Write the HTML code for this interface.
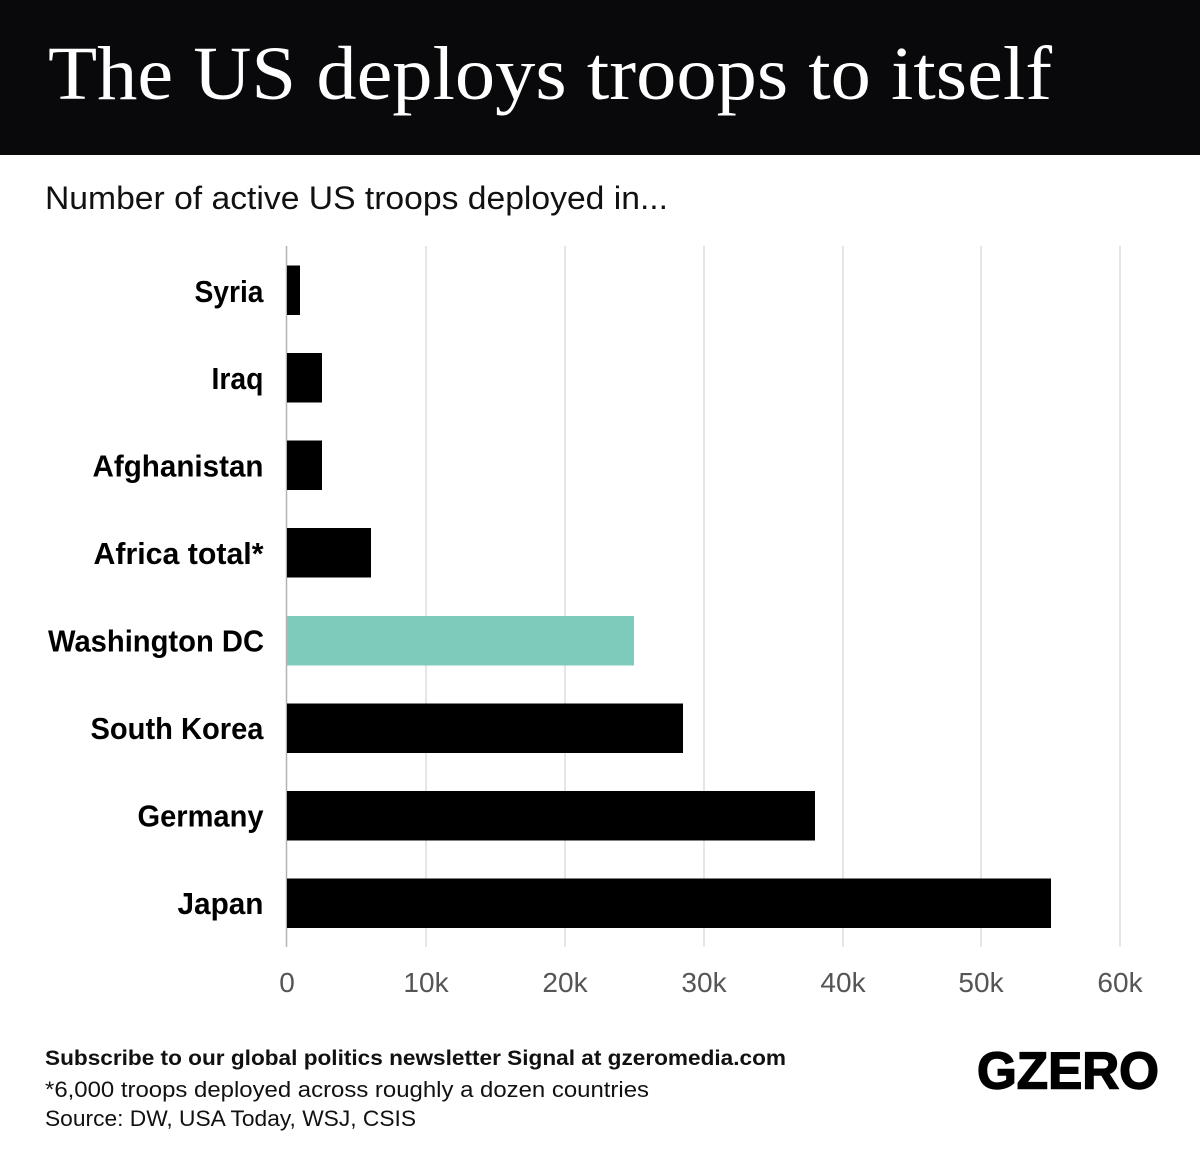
<!DOCTYPE html>
<html>
<head>
<meta charset="utf-8">
<style>
  html, body { margin: 0; padding: 0; background: #ffffff; }
  svg { display: block; }
</style>
</head>
<body>
<svg width="1200" height="1164" viewBox="0 0 1200 1164" xmlns="http://www.w3.org/2000/svg">
  <rect x="0" y="0" width="1200" height="1164" fill="#ffffff"/>
  <!-- Title bar -->
  <rect x="0" y="0" width="1200" height="155" fill="#09090b"/>
  <text x="48" y="99" font-family="'Liberation Serif', serif" font-size="76" fill="#ffffff" textLength="1004" lengthAdjust="spacingAndGlyphs">The US deploys troops to itself</text>

  <!-- Subtitle -->
  <text x="45" y="209" font-family="'Liberation Sans', sans-serif" font-size="32" fill="#111111" textLength="623" lengthAdjust="spacingAndGlyphs">Number of active US troops deployed in...</text>

  <!-- Gridlines -->
  <g stroke="#cccccc" stroke-width="1">
    <line x1="426" y1="246" x2="426" y2="947"/>
    <line x1="565" y1="246" x2="565" y2="947"/>
    <line x1="704" y1="246" x2="704" y2="947"/>
    <line x1="843" y1="246" x2="843" y2="947"/>
    <line x1="981" y1="246" x2="981" y2="947"/>
    <line x1="1120" y1="246" x2="1120" y2="947"/>
  </g>
  <line x1="286.5" y1="246" x2="286.5" y2="947" stroke="#b3b3b3" stroke-width="1.5"/>

  <!-- Bars -->
  <rect x="287" y="265.5" width="13" height="49.5" fill="#000000"/>
  <rect x="287" y="353" width="35" height="49.5" fill="#000000"/>
  <rect x="287" y="440.5" width="35" height="49.5" fill="#000000"/>
  <rect x="287" y="528" width="84" height="49.5" fill="#000000"/>
  <rect x="287" y="616" width="347" height="49.5" fill="#7ecbbb"/>
  <rect x="287" y="703.5" width="396" height="49.5" fill="#000000"/>
  <rect x="287" y="791" width="528" height="49.5" fill="#000000"/>
  <rect x="287" y="878.5" width="764" height="49.5" fill="#000000"/>

  <!-- Category labels -->
  <g font-family="'Liberation Sans', sans-serif" font-weight="bold" font-size="31" fill="#000000" text-anchor="end">
    <text x="263.5" y="302" textLength="69" lengthAdjust="spacingAndGlyphs">Syria</text>
    <text x="263.5" y="389" textLength="52" lengthAdjust="spacingAndGlyphs">Iraq</text>
    <text x="263.5" y="476.5" textLength="171" lengthAdjust="spacingAndGlyphs">Afghanistan</text>
    <text x="263.5" y="564" textLength="170" lengthAdjust="spacingAndGlyphs">Africa total*</text>
    <text x="264" y="651.5" textLength="216" lengthAdjust="spacingAndGlyphs">Washington DC</text>
    <text x="263.5" y="739" textLength="173" lengthAdjust="spacingAndGlyphs">South Korea</text>
    <text x="263.5" y="826.5" textLength="126" lengthAdjust="spacingAndGlyphs">Germany</text>
    <text x="263.5" y="914" textLength="86" lengthAdjust="spacingAndGlyphs">Japan</text>
  </g>

  <!-- Tick labels -->
  <g font-family="'Liberation Sans', sans-serif" font-size="28" fill="#555555" text-anchor="middle">
    <text x="287" y="992">0</text>
    <text x="426" y="992">10k</text>
    <text x="565" y="992">20k</text>
    <text x="704" y="992">30k</text>
    <text x="843" y="992">40k</text>
    <text x="981" y="992">50k</text>
    <text x="1120" y="992">60k</text>
  </g>

  <!-- Footer -->
  <text x="45" y="1065" font-family="'Liberation Sans', sans-serif" font-weight="bold" font-size="21" fill="#111111" textLength="741" lengthAdjust="spacingAndGlyphs">Subscribe to our global politics newsletter Signal at gzeromedia.com</text>
  <text x="45" y="1097" font-family="'Liberation Sans', sans-serif" font-size="22" fill="#111111" textLength="604" lengthAdjust="spacingAndGlyphs">*6,000 troops deployed across roughly a dozen countries</text>
  <text x="45" y="1126" font-family="'Liberation Sans', sans-serif" font-size="22" fill="#111111" textLength="371" lengthAdjust="spacingAndGlyphs">Source: DW, USA Today, WSJ, CSIS</text>

  <!-- Logo -->
  <text x="977" y="1088.5" font-family="'Liberation Sans', sans-serif" font-weight="bold" font-size="52" fill="#000000" stroke="#000000" stroke-width="1.5" textLength="182" lengthAdjust="spacingAndGlyphs">GZERO</text>
</svg>
</body>
</html>
